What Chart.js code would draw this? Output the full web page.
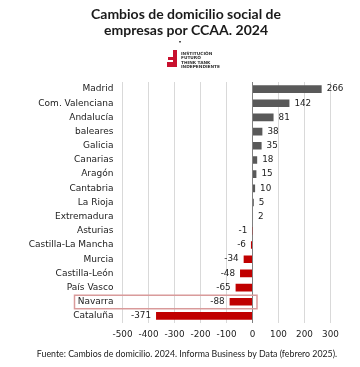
<!DOCTYPE html>
<html>
<head>
<meta charset="utf-8">
<script src="https://cdn.jsdelivr.net/npm/chart.js@4"></script>
<style>
html,body{margin:0;padding:0;background:#fff;}
#wrap{width:360px;height:367px;position:relative;}
</style>
</head>
<body>
<div id="wrap"><canvas id="c" width="360" height="367"></canvas></div>
<script>
const categories = ['Madrid','Com. Valenciana','Andalucía','baleares','Galicia','Canarias','Aragón','Cantabria','La Rioja','Extremadura','Asturias','Castilla-La Mancha','Murcia','Castilla-León','País Vasco','Navarra','Cataluña'];
const values = [266,142,81,38,35,18,15,10,5,2,-1,-6,-34,-48,-65,-88,-371];
const xTicks = [-500,-400,-300,-200,-100,0,100,200,300];
const titleLines = ['Cambios de domicilio social de','empresas por CCAA. 2024'];
const logoLines = ['INSTITUCIÓN','FUTURO','THINK TANK','INDEPENDIENTE'];
const sourceText = 'Fuente: Cambios de domicilio. 2024. Informa Business by Data (febrero 2025).';
const highlighted = 'Navarra';

const POS = '#595959', NEG = '#c00000';

const decor = {
  id: 'decor',
  afterDraw(chart) {
    const ctx = chart.ctx;
    const x = chart.scales.x, y = chart.scales.y;
    ctx.save();
    // title
    ctx.fillStyle = '#1a1a1a';
    ctx.font = 'bold 14px Lato';
    ctx.textAlign = 'center';
    ctx.textBaseline = 'middle';
    titleLines.forEach((t, i) => ctx.fillText(t, 186, 14 + i * 16));
    // tiny mark
    ctx.fillStyle = '#555';
    ctx.fillRect(179, 41, 2, 1.5);
    // logo shape
    ctx.fillStyle = '#c8102e';
    ctx.fillRect(173, 50, 4, 17);
    ctx.fillRect(168, 57, 6, 3);
    ctx.fillRect(167, 62, 7, 5);
    // logo text
    ctx.fillStyle = '#333';
    ctx.font = 'bold 4.3px "DejaVu Sans"';
    ctx.textAlign = 'left';
    logoLines.forEach((t, i) => ctx.fillText(t, 181, 54 + i * 4.2));
    // source
    ctx.fillStyle = '#1a1a1a';
    ctx.font = '8.8px Lato';
    ctx.textAlign = 'center';
    ctx.fillText(sourceText, 187, 354);
    // value labels
    ctx.font = '8.8px "DejaVu Sans"';
    ctx.fillStyle = '#222';
    const meta = chart.getDatasetMeta(0);
    meta.data.forEach((bar, i) => {
      const v = values[i];
      if (v >= 0) { ctx.textAlign = 'left'; ctx.fillText(String(v), bar.x + 5, bar.y); }
      else { ctx.textAlign = 'right'; ctx.fillText(String(v), bar.x - 5, bar.y); }
    });
    // highlight box
    const idx = categories.indexOf(highlighted);
    const cy = y.getPixelForValue(idx);
    ctx.strokeStyle = '#d99a9a';
    ctx.lineWidth = 1.5;
    const left = chart.chartArea.left - 48, right = x.getPixelForValue(0) + 4.5;
    ctx.strokeRect(left, cy - 6.5, right - left, 13.5);
    ctx.restore();
  }
};

new Chart(document.getElementById('c'), {
  type: 'bar',
  data: {
    labels: categories,
    datasets: [{
      data: values,
      backgroundColor: values.map(v => v >= 0 ? POS : NEG),
      borderWidth: 0,
      categoryPercentage: 1,
      barPercentage: 0.54
    }]
  },
  options: {
    indexAxis: 'y',
    responsive: false,
    animation: false,
    devicePixelRatio: 1,
    layout: { padding: { top: 82, left: 0, right: 29.5, bottom: 24 } },
    plugins: { legend: { display: false }, tooltip: { enabled: false } },
    scales: {
      x: {
        min: -500, max: 300,
        afterBuildTicks: s => { s.ticks = xTicks.map(v => ({ value: v })); },
        afterFit: s => { s.height = 20; },
        grid: {
          color: c => c.tick && c.tick.value === 0 ? '#808080' : '#d9d9d9',
          lineWidth: 1,
          drawTicks: false
        },
        border: { display: false },
        ticks: { color: '#222', padding: 6, font: { family: 'DejaVu Sans', size: 8.8 } }
      },
      y: {
        afterFit: s => { s.width = 122.5; },
        grid: { display: false, drawTicks: false },
        border: { display: false },
        ticks: { color: '#222', padding: 9, autoSkip: false, font: { family: 'DejaVu Sans', size: 9 } }
      }
    }
  },
  plugins: [decor]
});
</script>
</body>
</html>
